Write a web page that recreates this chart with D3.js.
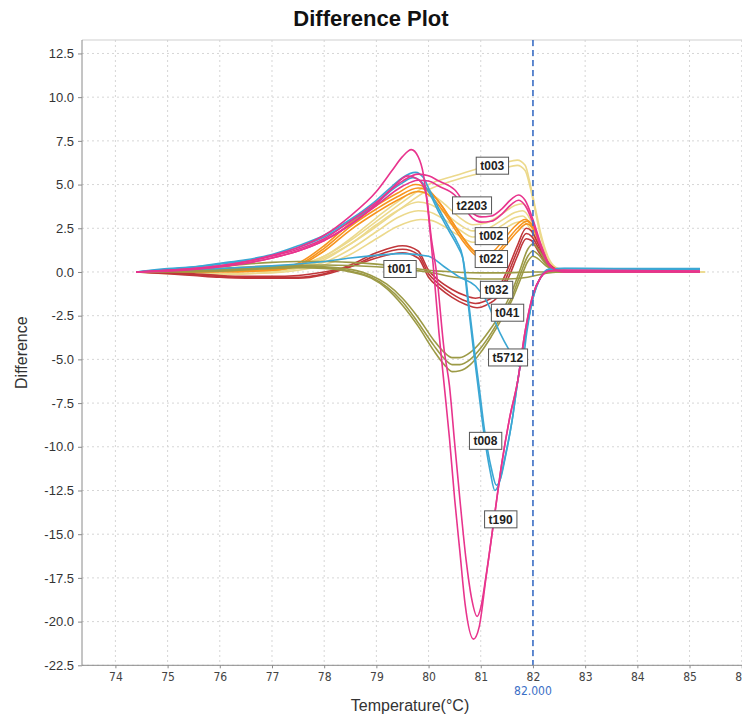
<!DOCTYPE html>
<html lang="en">
<head>
<meta charset="UTF-8">
<title>Difference Plot</title>
<script src="https://d3js.org/d3.v7.min.js"></script>
<style>
  body { margin: 0; background: #fff; }
  svg { display: block; }
</style>
</head>
<body>
<div id="chart"></div>
<script>
// ---- data: [temperature, difference] ----
// t190 (pink, deep trough)
const t190a = [[74.4,0],[75,0.1],[75.5,0.2],[76,0.35],[76.5,0.6],[77,0.95],[77.5,1.4],[78,2.1],[78.5,3.2],[79,4.6],[79.3,5.8],[79.5,6.6],[79.67,7.0],[79.8,6.6],[79.9,5.6],[80.0,3.2],[80.1,0],[80.2,-3.5],[80.3,-6.5],[80.4,-9.5],[80.5,-13],[80.6,-16],[80.7,-19],[80.86,-21],[80.97,-20.3],[81.1,-17.5],[81.27,-13.8],[81.4,-11],[81.55,-8.4],[81.71,-6.2],[81.85,-3.4],[82.0,-1.3],[82.15,-0.3],[82.3,0.05],[82.6,0.1],[85.2,0.05]];
const t190b = [[74.4,0],[75,0.05],[75.5,0.15],[76,0.3],[76.5,0.5],[77,0.8],[77.5,1.2],[78,1.8],[78.5,2.7],[79,3.9],[79.3,4.8],[79.6,5.5],[79.8,5.3],[79.95,4.5],[80.05,2.0],[80.15,0],[80.3,-4.5],[80.4,-6.5],[80.5,-9.8],[80.6,-13],[80.72,-16.5],[80.82,-18.6],[80.93,-19.7],[81.0,-19.2],[81.1,-17.4],[81.27,-13.8],[81.4,-11],[81.55,-8.4],[81.71,-6.2],[81.85,-3.4],[82.0,-1.3],[82.15,-0.3],[82.3,0.05],[82.6,0.1],[85.2,0.05]];
// t2203 (pink, double hump)
const t2203a = [[74.4,0],[75,0.1],[76,0.35],[77,0.9],[77.5,1.3],[78,1.9],[78.5,2.9],[79,4.0],[79.5,5.2],[79.8,5.6],[80.0,5.5],[80.2,5.2],[80.5,4.7],[80.7,3.9],[80.85,3.35],[81.0,3.15],[81.2,3.2],[81.4,3.6],[81.6,4.2],[81.72,4.4],[81.85,4.1],[82.0,3.0],[82.15,1.6],[82.3,0.5],[82.45,0.1],[82.6,0],[85.2,0]];
const t2203b = [[74.4,0],[75,0.08],[76,0.3],[77,0.8],[77.5,1.2],[78,1.8],[78.5,2.7],[79,3.8],[79.5,4.9],[79.8,5.25],[80.0,5.2],[80.2,4.9],[80.5,4.4],[80.7,3.6],[80.85,3.05],[81.0,2.85],[81.2,2.9],[81.4,3.3],[81.6,3.9],[81.72,4.1],[81.85,3.8],[82.0,2.8],[82.15,1.4],[82.3,0.4],[82.45,0.1],[82.6,0],[85.2,0]];
// t008 (cyan, trough at 81.3)
const t008a = [[74.4,0],[75,0.2],[75.5,0.3],[76,0.5],[76.5,0.7],[77,1.0],[77.5,1.5],[78,2.1],[78.5,3.0],[79,4.1],[79.3,4.9],[79.5,5.4],[79.75,5.7],[79.9,5.4],[80.0,4.8],[80.2,3.6],[80.4,2.5],[80.55,1.7],[80.65,0.9],[80.75,-1.6],[80.85,-4.2],[80.95,-6.6],[81.05,-9],[81.18,-11.4],[81.27,-12.5],[81.35,-12.1],[81.45,-10.8],[81.6,-8.5],[81.71,-6.2],[81.85,-3.7],[82.0,-1.5],[82.15,-0.3],[82.3,0.15],[82.5,0.2],[85.2,0.15]];
const t008b = [[74.4,0],[75,0.15],[75.5,0.28],[76,0.45],[76.5,0.65],[77,0.95],[77.5,1.4],[78,2.0],[78.5,2.9],[79,3.9],[79.3,4.7],[79.5,5.1],[79.7,5.4],[79.85,5.2],[80.0,4.6],[80.2,3.4],[80.4,2.3],[80.55,1.5],[80.67,0.6],[80.77,-1.8],[80.87,-4.3],[80.97,-6.6],[81.07,-9],[81.2,-11.2],[81.3,-12.2],[81.38,-11.8],[81.47,-10.6],[81.6,-8.5],[81.71,-6.2],[81.85,-3.7],[82.0,-1.5],[82.15,-0.3],[82.3,0.15],[82.5,0.2],[85.2,0.2]];
// t5712 (cyan, shallow)
const t5712 = [[74.4,0],[75,0.1],[76,0.2],[77,0.35],[78,0.6],[78.5,0.8],[79,0.95],[79.5,1.05],[80,0.9],[80.3,0.3],[80.6,-0.3],[80.9,-0.8],[81.1,-1.6],[81.37,-3.5],[81.55,-4.5],[81.75,-5.4],[81.8,-5.2],[81.88,-3.5],[82.0,-1.4],[82.15,-0.3],[82.3,0.1],[82.6,0.2],[85.2,0.15]];
// t003 (yellow, high right peak)
const t003a = [[74.4,0],[75,0.05],[76,0.1],[77,0.15],[77.5,0.35],[78,0.9],[78.5,1.8],[79,2.9],[79.5,4.0],[80,5.0],[80.5,5.5],[81,5.95],[81.4,6.2],[81.7,6.4],[81.85,6.1],[81.95,5.0],[82.05,3.6],[82.15,2.2],[82.3,0.8],[82.45,0.25],[82.7,0.05],[83,0],[85.3,0]];
const t003b = [[74.4,0],[75,0],[76,0.05],[77,0.1],[77.5,0.3],[78,0.8],[78.5,1.6],[79,2.6],[79.5,3.7],[80,4.7],[80.5,5.25],[81,5.65],[81.4,5.9],[81.7,6.1],[81.85,5.8],[81.95,4.8],[82.05,3.4],[82.15,2.0],[82.3,0.7],[82.45,0.2],[82.7,0.05],[83,0],[85.3,0]];
// t002 (yellow, two humps)
const t002a = [[74.4,0],[75,0.1],[76,0.2],[77,0.2],[77.5,0.4],[78,0.9],[78.5,1.9],[79,3.1],[79.4,4.0],[79.75,4.6],[80.0,4.5],[80.3,3.9],[80.6,3.1],[80.85,2.7],[81.1,2.8],[81.4,3.3],[81.65,3.8],[81.8,3.9],[81.95,3.3],[82.1,2.0],[82.25,0.9],[82.4,0.3],[82.6,0.05],[83,0],[85.2,0]];
const t002b = [[74.4,0],[75,-0.1],[76,-0.15],[77,0],[77.5,0.25],[78,0.7],[78.5,1.6],[79,2.7],[79.4,3.5],[79.8,4.0],[80.0,3.9],[80.3,3.4],[80.6,2.7],[80.85,2.35],[81.1,2.45],[81.4,2.95],[81.65,3.4],[81.8,3.5],[81.95,3.0],[82.1,1.8],[82.25,0.8],[82.4,0.25],[82.6,0.05],[83,0],[85.2,0]];
const t002c = [[74.4,0],[75,0.05],[76,0.1],[77,0.05],[77.5,0.2],[78,0.55],[78.5,1.3],[79,2.3],[79.4,3.1],[79.8,3.5],[80.0,3.45],[80.3,3.0],[80.6,2.4],[80.85,2.0],[81.1,2.1],[81.4,2.65],[81.65,3.1],[81.8,3.2],[81.95,2.7],[82.1,1.6],[82.25,0.7],[82.4,0.2],[82.6,0.05],[83,0],[85.2,0]];
const t002d = [[74.4,0],[75,-0.05],[76,-0.1],[77,-0.05],[77.5,0.1],[78,0.4],[78.5,1.0],[79,1.9],[79.4,2.6],[79.85,3.0],[80.05,2.95],[80.3,2.6],[80.6,2.05],[80.85,1.7],[81.1,1.8],[81.4,2.35],[81.65,2.8],[81.8,2.9],[81.95,2.45],[82.1,1.4],[82.25,0.6],[82.4,0.2],[82.6,0.05],[83,0],[85.2,0]];
// t022 (orange)
const t022a = [[74.4,0],[75,0],[76,0.05],[77,0.15],[77.5,0.5],[78,1.5],[78.5,2.8],[79,3.8],[79.4,4.5],[79.75,5.0],[80.0,4.7],[80.2,4.0],[80.4,3.1],[80.6,2.2],[80.85,1.25],[81.05,0.95],[81.25,1.2],[81.45,1.9],[81.65,2.6],[81.85,3.0],[82.0,2.6],[82.15,1.5],[82.3,0.5],[82.5,0.1],[82.7,0],[85.2,0]];
const t022b = [[74.4,0],[75,0],[76,0.05],[77,0.1],[77.5,0.4],[78,1.35],[78.5,2.6],[79,3.6],[79.4,4.3],[79.8,4.8],[80.05,4.5],[80.25,3.8],[80.45,2.9],[80.65,2.0],[80.9,1.1],[81.1,0.85],[81.3,1.1],[81.5,1.8],[81.7,2.5],[81.88,2.9],[82.02,2.5],[82.15,1.5],[82.3,0.5],[82.5,0.1],[82.7,0],[85.2,0]];
const t022c = [[74.4,0],[75,0],[76,0],[77,0.1],[77.5,0.35],[78,1.2],[78.5,2.4],[79,3.4],[79.4,4.1],[79.8,4.6],[80.05,4.3],[80.25,3.6],[80.45,2.7],[80.65,1.8],[80.9,0.95],[81.1,0.7],[81.3,0.95],[81.5,1.6],[81.7,2.3],[81.88,2.75],[82.02,2.4],[82.15,1.4],[82.3,0.45],[82.5,0.1],[82.7,0],[85.2,0]];
// t032 (dark red)
const t032a = [[74.4,0],[75,-0.05],[75.5,-0.15],[76,-0.25],[76.5,-0.3],[77,-0.3],[77.5,-0.3],[78,-0.1],[78.5,0.4],[79,1.1],[79.5,1.5],[79.8,1.2],[80.0,0.1],[80.2,-0.5],[80.45,-1.0],[80.7,-1.35],[80.9,-1.5],[81.1,-1.35],[81.36,-0.8],[81.55,0.4],[81.7,1.5],[81.87,2.5],[81.97,2.35],[82.1,1.6],[82.25,0.7],[82.4,0.2],[82.6,0],[85.2,0]];
const t032b = [[74.4,0],[75,-0.1],[75.5,-0.2],[76,-0.3],[76.5,-0.35],[77,-0.35],[77.5,-0.35],[78,-0.15],[78.5,0.3],[79,0.95],[79.5,1.3],[79.8,1.0],[80.0,-0.1],[80.2,-0.7],[80.45,-1.25],[80.7,-1.65],[80.9,-1.8],[81.1,-1.65],[81.36,-1.1],[81.55,0.1],[81.7,1.2],[81.87,2.2],[81.97,2.05],[82.1,1.4],[82.25,0.6],[82.4,0.2],[82.6,0],[85.2,0]];
const t032c = [[74.4,0],[75,-0.05],[75.5,-0.1],[76,-0.2],[76.5,-0.25],[77,-0.25],[77.5,-0.2],[78,0],[78.5,0.3],[79,0.8],[79.5,1.1],[79.8,0.8],[80.0,-0.3],[80.2,-0.9],[80.45,-1.45],[80.7,-1.85],[80.93,-2.05],[81.1,-1.9],[81.36,-1.3],[81.55,-0.2],[81.7,0.9],[81.87,1.9],[81.97,1.8],[82.1,1.2],[82.25,0.5],[82.4,0.15],[82.6,0],[85.2,0]];
// t041 (olive, dip at 80.5)
const t041a = [[74.5,0],[75,0.05],[76,0.15],[77,0.3],[77.5,0.35],[78,0.3],[78.5,0.15],[78.9,-0.2],[79.2,-0.7],[79.5,-1.5],[79.8,-2.6],[80.1,-3.9],[80.3,-4.6],[80.45,-4.9],[80.6,-4.9],[80.8,-4.6],[81.0,-4.0],[81.2,-3.2],[81.4,-2.3],[81.6,-1.1],[81.75,0.1],[81.9,1.3],[82.0,1.6],[82.1,1.3],[82.25,0.6],[82.4,0.15],[82.6,0],[85.2,0]];
const t041b = [[74.5,0],[75,0.05],[76,0.1],[77,0.25],[77.5,0.3],[78,0.25],[78.5,0.05],[78.9,-0.3],[79.2,-0.85],[79.5,-1.7],[79.8,-2.9],[80.1,-4.2],[80.3,-4.95],[80.45,-5.3],[80.6,-5.3],[80.8,-5.0],[81.0,-4.35],[81.2,-3.5],[81.4,-2.5],[81.6,-1.4],[81.75,-0.2],[81.9,0.9],[82.0,1.2],[82.1,1.0],[82.25,0.45],[82.4,0.1],[82.6,0],[85.2,0]];
const t041c = [[74.5,0],[75,0],[76,0.05],[77,0.2],[77.5,0.25],[78,0.2],[78.5,0],[78.9,-0.35],[79.2,-0.95],[79.5,-1.9],[79.8,-3.1],[80.1,-4.5],[80.3,-5.3],[80.45,-5.7],[80.6,-5.65],[80.8,-5.3],[81.0,-4.6],[81.2,-3.7],[81.4,-2.7],[81.6,-1.6],[81.75,-0.5],[81.9,0.6],[82.0,0.9],[82.1,0.75],[82.25,0.35],[82.4,0.1],[82.6,0],[85.2,0]];
// t001 (olive, almost flat)
const t001a = [[74.5,0],[75,0.1],[75.5,0.2],[76,0.3],[76.5,0.45],[77,0.55],[77.5,0.6],[78,0.6],[78.5,0.55],[79,0.45],[79.5,0.3],[80,0.1],[80.5,0],[81,-0.05],[81.5,-0.05],[82,0],[82.5,0],[85.2,0]];
const t001b = [[74.5,0],[75,0.05],[76,0.2],[77,0.35],[78,0.4],[79,0.3],[79.5,0.15],[80,0],[80.5,-0.3],[81,-0.4],[81.5,-0.4],[81.9,-0.3],[82.2,-0.1],[82.5,0],[85.2,0]];

// drawing order and colours per sample group
const seriesNames = ["t002a","t002b","t002c","t002d","t003a","t003b","t022a","t022b","t022c","t032a","t032b","t032c","t001a","t001b","t041a","t041b","t041c","t5712","t008a","t008b","t2203a","t2203b","t190a","t190b"];
const seriesData = [t002a,t002b,t002c,t002d,t003a,t003b,t022a,t022b,t022c,t032a,t032b,t032c,t001a,t001b,t041a,t041b,t041c,t5712,t008a,t008b,t2203a,t2203b,t190a,t190b];
const seriesGroup = ["yellow","yellow","yellow","yellow","yellow","yellow","orange","orange","orange","red","red","red","olive","olive","olive","olive","olive","cyan","cyan","cyan","pink","pink","pink","pink"];
const groupColor = {yellow:"#ecd98c", orange:"#f7941e", red:"#c0363a", olive:"#9c9a46", cyan:"#3ba7d4", pink:"#e8348d"};

// curve tags: name, temperature, difference (box centre)
const labelNames = ["t003","t2203","t002","t022","t001","t032","t041","t5712","t008","t190"];
const labelT = [81.22, 80.83, 81.20, 81.20, 79.45, 81.30, 81.51, 81.52, 81.09, 81.38];
const labelV = [6.08, 3.81, 2.05, 0.74, 0.17, -1.02, -2.33, -4.89, -9.66, -14.15];

const xTicks = d3.range(74, 87, 1);
const yTicks = d3.range(-22.5, 12.6, 2.5);
const markerT = 82.0;

// ---- chart ----
const W = 742, H = 715;
const plot = {left: 82, right: 760, top: 40, bottom: 665.3};

const svg = d3.select("#chart").append("svg")
    .attr("width", W).attr("height", H);

const x = d3.scaleLinear().domain([73.36, 86.35]).range([plot.left, plot.right]);
const y = d3.scaleLinear().domain([-22.5, 13.27]).range([plot.bottom, plot.top]);

svg.append("defs").append("clipPath").attr("id", "clip")
  .append("rect")
    .attr("x", plot.left).attr("y", plot.top)
    .attr("width", plot.right - plot.left).attr("height", plot.bottom - plot.top);

// title
svg.append("text")
    .attr("x", 371).attr("y", 26)
    .attr("text-anchor", "middle")
    .style("font", "bold 22px 'Liberation Sans', Arial, sans-serif")
    .attr("fill", "#111")
    .text("Difference Plot");

// grid
const grid = svg.append("g");
grid.selectAll(".gx").data(xTicks).enter().append("line")
    .attr("x1", d => x(d)).attr("x2", d => x(d))
    .attr("y1", plot.top).attr("y2", plot.bottom)
    .attr("stroke", "#d6d6d6").attr("stroke-dasharray", "2,3");
grid.selectAll(".gy").data(yTicks).enter().append("line")
    .attr("x1", plot.left).attr("x2", plot.right)
    .attr("y1", d => y(d)).attr("y2", d => y(d))
    .attr("stroke", "#d6d6d6").attr("stroke-dasharray", "2,3");

// top border
svg.append("line")
    .attr("x1", plot.left).attr("x2", plot.right)
    .attr("y1", plot.top).attr("y2", plot.top)
    .attr("stroke", "#cfcfcf");

// curves
const line = d3.line()
    .x(d => x(d[0])).y(d => y(d[1]))
    .curve(d3.curveMonotoneX);

svg.append("g").attr("clip-path", "url(#clip)")
  .selectAll("path").data(seriesData).enter().append("path")
    .attr("d", line)
    .attr("fill", "none")
    .attr("stroke", (d, i) => groupColor[seriesGroup[i]])
    .attr("stroke-width", 1.6);

// marker line at 82
svg.append("line")
    .attr("x1", x(markerT)).attr("x2", x(markerT))
    .attr("y1", plot.top).attr("y2", plot.bottom)
    .attr("stroke", "#3b6fc6").attr("stroke-width", 1.6)
    .attr("stroke-dasharray", "6,4");

// axes (plain hyphen for negatives, as in the original)
const yFmt = d => d3.format(".1f")(d).replace("\u2212", "-");
const yAxis = svg.append("g")
    .attr("transform", `translate(${plot.left},0)`)
    .call(d3.axisLeft(y).tickValues(yTicks).tickFormat(yFmt).tickSize(4).tickPadding(4));
yAxis.select(".domain").attr("stroke", "#8a8a8a").attr("d", `M0,${plot.top}V${plot.bottom}`);
yAxis.selectAll(".tick line").attr("stroke", "#8a8a8a");
yAxis.selectAll("text")
    .style("font", "13px 'Liberation Sans', Arial, sans-serif").attr("fill", "#333");

const xAxis = svg.append("g")
    .attr("transform", `translate(0,${plot.bottom})`)
    .call(d3.axisBottom(x).tickValues(xTicks).tickFormat(d3.format("d")).tickSize(3).tickPadding(4));
xAxis.select(".domain").attr("stroke", "#8a8a8a").attr("d", `M${plot.left},0H${plot.right}`);
xAxis.selectAll(".tick line").attr("stroke", "#8a8a8a");
xAxis.selectAll("text")
    .style("font", "12px 'Liberation Sans Narrow', 'DejaVu Sans Condensed', sans-serif").attr("fill", "#444");

// marker value under the axis
svg.append("text")
    .attr("x", x(markerT)).attr("y", 695)
    .attr("text-anchor", "middle")
    .style("font", "12px 'Liberation Sans Narrow', 'DejaVu Sans Condensed', sans-serif")
    .attr("fill", "#3b6fc6")
    .text(d3.format(".3f")(markerT));

// axis titles
svg.append("text")
    .attr("x", 410).attr("y", 711)
    .attr("text-anchor", "middle")
    .style("font", "16px 'Liberation Sans', Arial, sans-serif").attr("fill", "#333")
    .text("Temperature(°C)");

svg.append("text")
    .attr("transform", `translate(27,${(plot.top + plot.bottom) / 2}) rotate(-90)`)
    .attr("text-anchor", "middle")
    .style("font", "16px 'Liberation Sans', Arial, sans-serif").attr("fill", "#333")
    .text("Difference");

// curve tags
const tags = svg.append("g").selectAll("g").data(labelNames).enter().append("g")
    .attr("transform", (d, i) => `translate(${x(labelT[i])},${y(labelV[i])})`);
tags.append("text")
    .attr("text-anchor", "middle").attr("dy", "0.35em")
    .style("font", "bold 12px 'Liberation Sans', Arial, sans-serif").attr("fill", "#222")
    .text(d => d);
tags.each(function() {
  const g = d3.select(this);
  const b = g.select("text").node().getBBox();
  g.insert("rect", "text")
    .attr("x", b.x - 4).attr("y", -8.5)
    .attr("width", b.width + 8).attr("height", 17)
    .attr("fill", "#fff").attr("stroke", "#555").attr("stroke-width", 1);
});
</script>
</body>
</html>
